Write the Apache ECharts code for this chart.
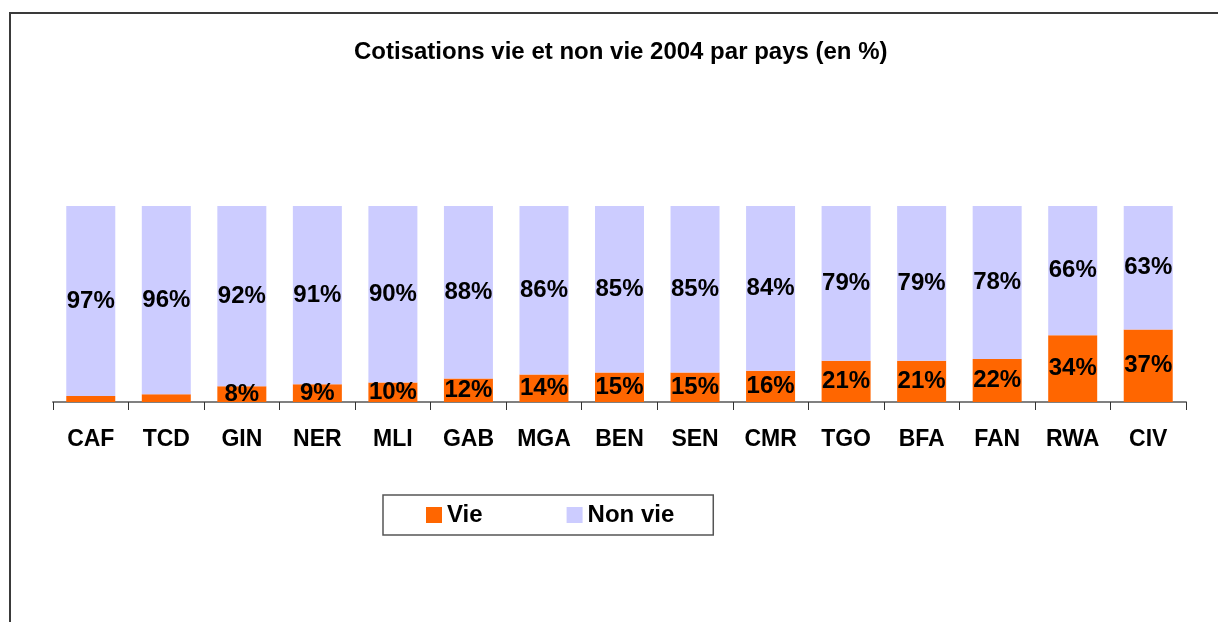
<!DOCTYPE html>
<html>
<head>
<meta charset="utf-8">
<script src="https://cdn.jsdelivr.net/npm/echarts@6/dist/echarts.min.js"></script>
<style>
  html, body { margin: 0; padding: 0; background: #fff; overflow: hidden; }
  #frame {
    position: absolute; left: 9px; top: 12px; width: 1400px; height: 800px;
    border-top: 2px solid #3a3a3a; border-left: 2px solid #3a3a3a;
  }
  #chart { position: absolute; left: 0; top: 0; width: 1218px; height: 622px; }
</style>
</head>
<body>
<div id="frame"></div>
<div id="chart"></div>
<script>
const countries = ['CAF', 'TCD', 'GIN', 'NER', 'MLI', 'GAB', 'MGA', 'BEN', 'SEN', 'CMR', 'TGO', 'BFA', 'FAN', 'RWA', 'CIV'];
const vie = [3, 4, 8, 9, 10, 12, 14, 15, 15, 16, 21, 21, 22, 34, 37];
const nonVie = [97, 96, 92, 91, 90, 88, 86, 85, 85, 84, 79, 79, 78, 66, 63];

const fontFamily = 'Liberation Sans, Arial, sans-serif';
const labelFont = { color: '#000', fontSize: 24, fontWeight: 'bold', fontFamily };

const chart = echarts.init(document.getElementById('chart'));

chart.setOption({
  animation: false,
  title: {
    text: 'Cotisations vie et non vie 2004 par pays (en %)',
    left: 349,
    top: 35,
    textStyle: { color: '#000', fontSize: 24, fontWeight: 'bold', fontFamily }
  },
  legend: {
    left: 383,
    top: 495,
    padding: [8, 39, 8, 43],
    itemGap: 84,
    itemWidth: 16,
    itemHeight: 16,
    icon: 'rect',
    borderColor: '#555',
    borderWidth: 1.5,
    textStyle: { color: '#000', fontSize: 24, fontWeight: 'bold', fontFamily },
    data: ['Vie', 'Non vie']
  },
  grid: { left: 53, right: 32, top: 206, bottom: 220 },
  xAxis: {
    type: 'category',
    data: countries,
    axisLine: { lineStyle: { color: '#808080', width: 2 } },
    axisTick: { show: true, length: 8, lineStyle: { color: '#333', width: 1 } },
    axisLabel: { margin: 26, color: '#000', fontSize: 23, fontWeight: 'bold', fontFamily }
  },
  yAxis: {
    type: 'value',
    min: 0,
    max: 100,
    show: false,
    splitLine: { show: false }
  },
  series: [
    {
      name: 'Vie',
      type: 'bar',
      stack: 'total',
      barWidth: 49,
      itemStyle: { color: '#FF6600' },
      label: { show: true, position: 'inside', formatter: '{c}%', ...labelFont },
      data: vie.map((v) => (v < 5 ? { value: v, label: { show: false } } : v))
    },
    {
      name: 'Non vie',
      type: 'bar',
      stack: 'total',
      barWidth: 49,
      itemStyle: { color: '#CCCCFF' },
      label: { show: true, position: 'inside', formatter: '{c}%', ...labelFont },
      data: nonVie
    }
  ]
});
</script>
</body>
</html>
